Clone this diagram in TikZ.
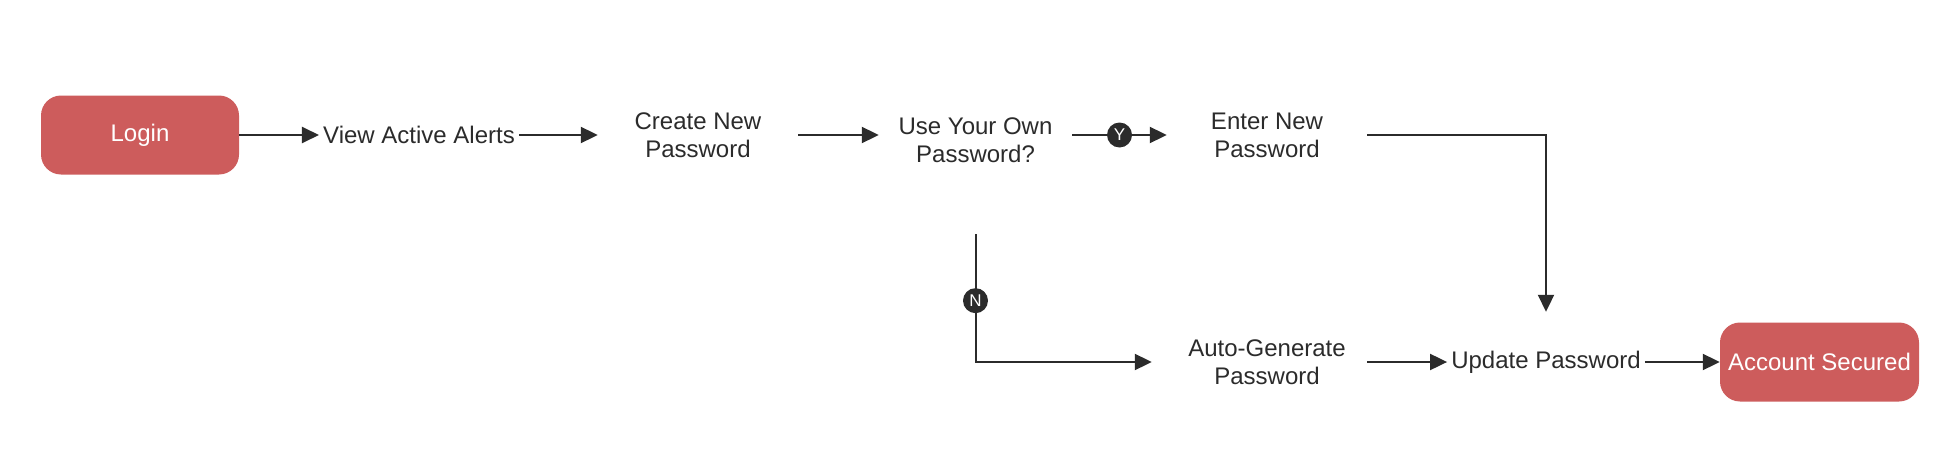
\documentclass[tikz,border=0pt]{standalone}
\usepackage{fontspec}
\setmainfont{Liberation Sans}
\usetikzlibrary{arrows.meta}
\definecolor{term}{HTML}{CD5C5C}
\definecolor{ink}{HTML}{2B2B2B}
\begin{document}
\begin{tikzpicture}[x=1pt,y=-1pt,
  every node/.style={font=\fontsize{24}{28}\selectfont, text=ink},
  terminal/.style={fill=term, rounded corners=20pt, minimum width=198pt, minimum height=79pt, text=white, inner sep=0pt},
  stepbox/.style={align=center, minimum width=200pt, minimum height=60pt, inner sep=0pt},
  textonly/.style={inner xsep=4pt, inner ysep=0pt, minimum height=100pt},
  flow/.style={draw=ink, line width=2pt, -{Triangle[length=17pt,width=16pt]}},
  badge/.style={circle, fill=ink, text=white, inner sep=0pt, minimum size=25pt, font=\fontsize{17}{17}\selectfont}]
\useasboundingbox (0,0) rectangle (1960,452);
\node[terminal] (login) at (140,135) {Login};
\node[textonly] (alerts) at (419,135) {View Active Alerts};
\node[stepbox] (create) at (698,135) {Create New\\Password};
\node[stepbox, minimum width=193pt, minimum height=188pt] (dec) at (975.5,140) {Use Your Own\\Password?};
\node[stepbox] (enter) at (1267,135) {Enter New\\Password};
\node[stepbox] (auto) at (1267,362) {Auto-Generate\\Password};
\node[textonly] (update) at (1546,362) {Update Password};
\node[terminal, minimum width=199pt] (secure) at (1819.5,362) {Account Secured};
\draw[flow] (login.east) -- (alerts.west);
\draw[flow] (alerts.east) -- (create.west);
\draw[flow] (create.east) -- (create.east -| dec.west);
\draw[flow] (dec.east |- enter.west) -- node[badge]{Y} (enter.west);
\draw[flow] (enter.east) -| (update.north);
\draw[flow] (dec.south) |- node[badge, pos=0.26]{N} ([xshift=-15pt]auto.west);
\draw[flow] (auto.east) -- (update.west);
\draw[flow] (update.east) -- (secure.west);
\end{tikzpicture}
\end{document}
